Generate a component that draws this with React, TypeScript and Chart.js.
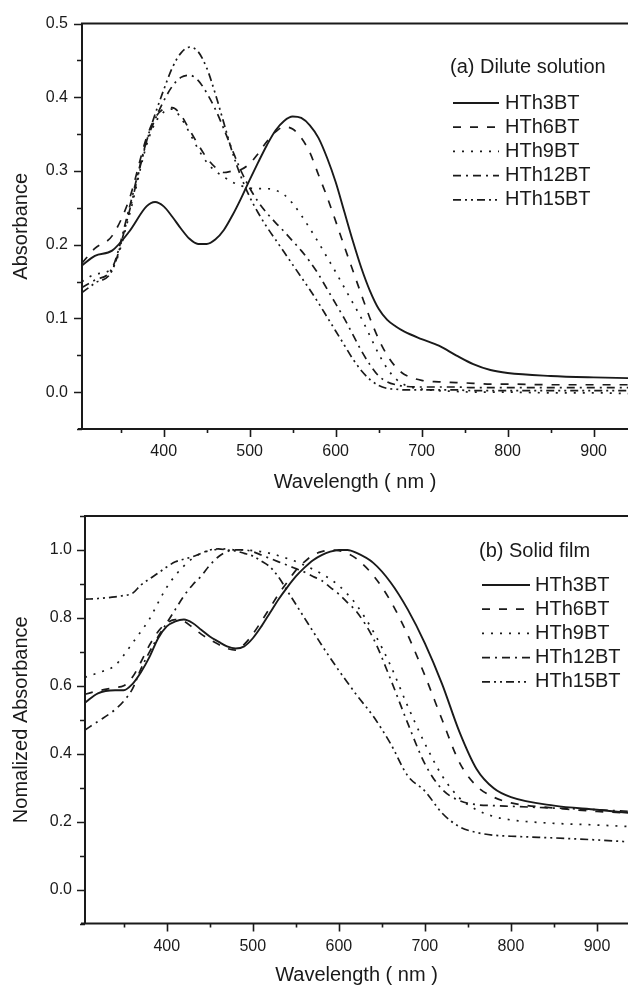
import React, { useEffect, useRef } from "react";
import { Chart, registerables } from "chart.js";

Chart.register(...registerables);

const FONT = "'Liberation Sans', Arial, Helvetica, sans-serif";
const INK = "#1a1a1a";

const SERIES_NAMES = ["HTh3BT", "HTh6BT", "HTh9BT", "HTh12BT", "HTh15BT"];
const SERIES_DASHES = [[], [8, 9], [2, 7], [8, 5, 2, 5], [8, 4, 2, 4, 2, 4]];

// ---------- (a) Dilute solution ----------
const TOP_WL = [305, 320, 340, 360, 380, 390, 400, 410, 420, 430, 440, 450, 460, 470, 480, 490, 500, 510, 520, 530, 540, 550, 560, 570, 580, 590, 600, 610, 620, 630, 640, 650, 660, 670, 680, 700, 720, 740, 760, 780, 800, 850, 900, 940];
const TOP_HTH3BT = [0.172, 0.185, 0.192, 0.218, 0.252, 0.258, 0.252, 0.238, 0.222, 0.208, 0.201, 0.201, 0.207, 0.220, 0.240, 0.263, 0.288, 0.312, 0.335, 0.355, 0.368, 0.374, 0.372, 0.362, 0.345, 0.318, 0.285, 0.245, 0.205, 0.168, 0.137, 0.113, 0.098, 0.089, 0.082, 0.072, 0.063, 0.050, 0.038, 0.030, 0.026, 0.022, 0.020, 0.019];
const TOP_HTH6BT = [0.175, 0.195, 0.212, 0.262, 0.345, 0.372, 0.384, 0.386, 0.376, 0.356, 0.336, 0.318, 0.305, 0.298, 0.300, 0.302, 0.310, 0.324, 0.340, 0.353, 0.360, 0.357, 0.345, 0.325, 0.295, 0.265, 0.232, 0.198, 0.165, 0.132, 0.100, 0.072, 0.050, 0.034, 0.024, 0.016, 0.014, 0.013, 0.012, 0.011, 0.011, 0.010, 0.010, 0.010];
const TOP_HTH9BT = [0.150, 0.160, 0.168, 0.240, 0.335, 0.365, 0.380, 0.384, 0.372, 0.352, 0.330, 0.312, 0.300, 0.292, 0.285, 0.280, 0.277, 0.276, 0.276, 0.274, 0.268, 0.256, 0.240, 0.222, 0.203, 0.183, 0.163, 0.142, 0.121, 0.100, 0.076, 0.052, 0.032, 0.018, 0.010, 0.004, 0.002, 0.001, 0.000, 0.000, 0.000, -0.001, -0.001, -0.002];
const TOP_HTH12BT = [0.142, 0.152, 0.168, 0.250, 0.340, 0.370, 0.395, 0.415, 0.427, 0.430, 0.423, 0.406, 0.384, 0.357, 0.328, 0.300, 0.277, 0.258, 0.243, 0.230, 0.218, 0.205, 0.192, 0.177, 0.160, 0.140, 0.120, 0.100, 0.078, 0.056, 0.037, 0.022, 0.014, 0.010, 0.008, 0.007, 0.007, 0.007, 0.006, 0.006, 0.006, 0.006, 0.006, 0.006];
const TOP_HTH15BT = [0.135, 0.148, 0.165, 0.245, 0.340, 0.377, 0.410, 0.440, 0.460, 0.468, 0.462, 0.440, 0.405, 0.365, 0.325, 0.292, 0.265, 0.243, 0.224, 0.207, 0.190, 0.173, 0.156, 0.139, 0.121, 0.102, 0.083, 0.064, 0.045, 0.029, 0.017, 0.009, 0.005, 0.004, 0.003, 0.003, 0.003, 0.003, 0.002, 0.002, 0.002, 0.002, 0.002, 0.002];
const TOP_X_TICKS = [400, 500, 600, 700, 800, 900];
const TOP_Y_TICKS = [0.0, 0.1, 0.2, 0.3, 0.4, 0.5];

// ---------- (b) Solid film ----------
const BOT_WL = [305, 320, 340, 350, 360, 370, 380, 390, 400, 410, 420, 430, 440, 450, 460, 470, 480, 490, 500, 510, 520, 530, 540, 550, 560, 570, 580, 590, 600, 610, 620, 640, 660, 680, 700, 720, 740, 760, 780, 800, 850, 900, 940];
const BOT_HTH3BT = [0.550, 0.578, 0.587, 0.587, 0.605, 0.640, 0.685, 0.740, 0.775, 0.790, 0.795, 0.785, 0.765, 0.745, 0.730, 0.716, 0.710, 0.716, 0.740, 0.775, 0.815, 0.855, 0.890, 0.922, 0.948, 0.970, 0.985, 0.995, 1.000, 1.000, 0.992, 0.962, 0.905, 0.825, 0.725, 0.605, 0.465, 0.355, 0.298, 0.272, 0.247, 0.235, 0.225];
const BOT_HTH6BT = [0.575, 0.585, 0.595, 0.600, 0.625, 0.670, 0.720, 0.760, 0.785, 0.795, 0.790, 0.772, 0.752, 0.736, 0.722, 0.710, 0.705, 0.722, 0.752, 0.790, 0.830, 0.870, 0.905, 0.940, 0.965, 0.985, 0.995, 1.000, 0.998, 0.990, 0.975, 0.925, 0.850, 0.750, 0.630, 0.500, 0.375, 0.305, 0.272, 0.255, 0.240, 0.230, 0.225];
const BOT_HTH9BT = [0.625, 0.638, 0.660, 0.690, 0.725, 0.760, 0.797, 0.845, 0.890, 0.925, 0.953, 0.975, 0.990, 0.998, 1.002, 1.003, 1.000, 1.000, 0.998, 0.995, 0.990, 0.983, 0.975, 0.966, 0.955, 0.943, 0.930, 0.914, 0.895, 0.870, 0.840, 0.760, 0.660, 0.540, 0.430, 0.335, 0.270, 0.235, 0.215, 0.205, 0.195, 0.190, 0.185];
const BOT_HTH12BT = [0.470, 0.495, 0.530, 0.555, 0.590, 0.650, 0.700, 0.745, 0.785, 0.825, 0.865, 0.897, 0.923, 0.955, 0.980, 0.995, 1.000, 1.000, 0.995, 0.985, 0.975, 0.965, 0.955, 0.945, 0.935, 0.922, 0.910, 0.890, 0.870, 0.845, 0.820, 0.740, 0.620, 0.490, 0.370, 0.295, 0.262, 0.250, 0.247, 0.245, 0.240, 0.235, 0.230];
const BOT_HTH15BT = [0.855, 0.857, 0.862, 0.866, 0.872, 0.897, 0.915, 0.932, 0.950, 0.965, 0.973, 0.980, 0.990, 1.000, 1.003, 1.000, 0.997, 0.990, 0.982, 0.967, 0.950, 0.920, 0.880, 0.840, 0.800, 0.760, 0.720, 0.682, 0.645, 0.610, 0.575, 0.510, 0.430, 0.335, 0.290, 0.225, 0.185, 0.168, 0.160, 0.157, 0.152, 0.146, 0.140];
const BOT_X_TICKS = [400, 500, 600, 700, 800, 900];
const BOT_Y_TICKS = [0.0, 0.2, 0.4, 0.6, 0.8, 1.0];

type Panel = {
  wl: number[];
  series: number[][];
  xMin: number;
  xMax: number;
  yMin: number;
  yMax: number;
  xTicks: number[];
  yTicks: number[];
  yMinorStep: number;
  yTitle: string;
  legendTitle: string;
  padTop: number;
  yAxisWidth: number;
  xAxisHeight: number;
  yLabelPad: number;
  legend: { titleX: number; titleY: number; rowY: number; rowGap: number; lineX0: number; lineX1: number; textX: number };
};

const PANELS: Panel[] = [
  {
    wl: TOP_WL,
    series: [TOP_HTH3BT, TOP_HTH6BT, TOP_HTH9BT, TOP_HTH12BT, TOP_HTH15BT],
    xMin: 305,
    xMax: 940,
    yMin: -0.05,
    yMax: 0.5,
    xTicks: TOP_X_TICKS,
    yTicks: TOP_Y_TICKS,
    yMinorStep: 0.05,
    yTitle: "Absorbance",
    legendTitle: "(a) Dilute solution",
    padTop: 22,
    yAxisWidth: 82,
    xAxisHeight: 64,
    yLabelPad: 14,
    legend: { titleX: 450, titleY: 67, rowY: 103, rowGap: 24.2, lineX0: 453, lineX1: 499, textX: 505 },
  },
  {
    wl: BOT_WL,
    series: [BOT_HTH3BT, BOT_HTH6BT, BOT_HTH9BT, BOT_HTH12BT, BOT_HTH15BT],
    xMin: 305,
    xMax: 936,
    yMin: -0.1,
    yMax: 1.1,
    xTicks: BOT_X_TICKS,
    yTicks: BOT_Y_TICKS,
    yMinorStep: 0.1,
    yTitle: "Nomalized Absorbance",
    legendTitle: "(b) Solid film",
    padTop: 23,
    yAxisWidth: 85,
    xAxisHeight: 62.5,
    yLabelPad: 13,
    legend: { titleX: 479, titleY: 58, rowY: 92, rowGap: 24.2, lineX0: 482, lineX1: 530, textX: 535 },
  },
];

const framePlugin = {
  id: "frame",
  afterDraw(chart: any, _args: any, opts: any) {
    const { ctx, chartArea: a, scales } = chart;
    const xs = scales.x;
    const ys = scales.y;
    ctx.save();
    ctx.strokeStyle = INK;
    ctx.lineWidth = 2;
    ctx.beginPath();
    ctx.moveTo(a.left - 4, a.bottom);
    ctx.lineTo(a.right, a.bottom);
    ctx.moveTo(a.left, a.top);
    ctx.lineTo(a.right, a.top);
    ctx.moveTo(a.left, a.top - 1);
    ctx.lineTo(a.left, a.bottom + 1);
    ctx.stroke();
    ctx.lineWidth = 1.6;
    ctx.beginPath();
    const k0 = Math.ceil(xs.min / 50);
    const k1 = Math.floor(xs.max / 50);
    for (let k = k0; k <= k1; k++) {
      const px = Math.round(xs.getPixelForValue(k * 50)) + 0.5;
      const len = k % 2 === 0 ? 8 : 4;
      ctx.moveTo(px, a.bottom);
      ctx.lineTo(px, a.bottom + len);
    }
    const step = opts.yMinorStep;
    const j0 = Math.round(ys.min / step);
    const j1 = Math.round(ys.max / step);
    for (let j = j0; j <= j1; j++) {
      const py = Math.round(ys.getPixelForValue(j * step)) + 0.5;
      const len = Math.abs(j) % 2 === 0 ? 8 : 5;
      ctx.moveTo(a.left, py);
      ctx.lineTo(a.left - len, py);
    }
    ctx.stroke();
    ctx.restore();
  },
};

const legendPlugin = {
  id: "specLegend",
  afterDraw(chart: any, _args: any, opts: any) {
    const { ctx } = chart;
    ctx.save();
    ctx.font = `20px ${FONT}`;
    ctx.fillStyle = INK;
    ctx.textAlign = "left";
    ctx.textBaseline = "middle";
    ctx.fillText(opts.title, opts.titleX, opts.titleY);
    chart.data.datasets.forEach((ds: any, i: number) => {
      const y = opts.rowY + i * opts.rowGap;
      ctx.beginPath();
      ctx.setLineDash(ds.borderDash || []);
      ctx.lineWidth = ds.borderWidth;
      ctx.strokeStyle = ds.borderColor;
      ctx.moveTo(opts.lineX0, y);
      ctx.lineTo(opts.lineX1, y);
      ctx.stroke();
      ctx.setLineDash([]);
      ctx.fillText(ds.label, opts.textX, y);
    });
    ctx.restore();
  },
};

function PanelChart({ p }: { p: Panel }) {
  const ref = useRef<HTMLCanvasElement | null>(null);
  useEffect(() => {
    if (!ref.current) return;
    const chart = new Chart(ref.current, {
      type: "line",
      data: {
        datasets: p.series.map((vals, i) => ({
          label: SERIES_NAMES[i],
          data: p.wl.map((x, k) => ({ x, y: vals[k] })),
          borderColor: INK,
          borderWidth: i === 0 ? 1.9 : 1.7,
          borderDash: SERIES_DASHES[i],
          pointRadius: 0,
          fill: false,
          cubicInterpolationMode: "monotone",
        })),
      },
      options: {
        responsive: false,
        animation: false,
        layout: { padding: { top: p.padTop, left: 0, right: 0, bottom: 0 } },
        plugins: {
          legend: { display: false },
          tooltip: { enabled: false },
          frame: { yMinorStep: p.yMinorStep },
          specLegend: { title: p.legendTitle, ...p.legend },
        } as any,
        scales: {
          x: {
            type: "linear",
            min: p.xMin,
            max: p.xMax,
            afterBuildTicks: (s: any) => {
              s.ticks = p.xTicks.map((v) => ({ value: v }));
            },
            afterFit: (s: any) => {
              s.height = p.xAxisHeight;
            },
            grid: { display: false, drawTicks: false },
            border: { display: false },
            ticks: {
              padding: 13,
              color: INK,
              font: { family: FONT, size: 16 },
              maxRotation: 0,
              callback: (v: any) => String(v),
            },
            title: {
              display: true,
              text: "Wavelength ( nm )",
              color: INK,
              font: { family: FONT, size: 20, lineHeight: 1 },
              padding: { top: 0, bottom: 1 },
            },
          },
          y: {
            type: "linear",
            min: p.yMin,
            max: p.yMax,
            afterBuildTicks: (s: any) => {
              s.ticks = p.yTicks.map((v) => ({ value: v }));
            },
            afterFit: (s: any) => {
              s.width = p.yAxisWidth;
            },
            grid: { display: false, drawTicks: false },
            border: { display: false },
            ticks: {
              padding: p.yLabelPad,
              color: INK,
              font: { family: FONT, size: 16 },
              callback: (v: any) => Number(v).toFixed(1),
            },
            title: {
              display: true,
              text: p.yTitle,
              color: INK,
              font: { family: FONT, size: 20 },
              padding: { top: 9, bottom: 0 },
            },
          },
        },
      } as any,
      plugins: [framePlugin, legendPlugin],
    } as any);
    return () => chart.destroy();
  }, [p]);
  return <canvas ref={ref} width={628} height={493} style={{ display: "block", width: 628, height: 493 }} />;
}

export default function App() {
  return (
    <div style={{ position: "absolute", left: 0, top: 0, width: 628, height: 986, background: "#fff", overflow: "hidden" }}>
      {PANELS.map((p, i) => (
        <PanelChart key={i} p={p} />
      ))}
    </div>
  );
}
